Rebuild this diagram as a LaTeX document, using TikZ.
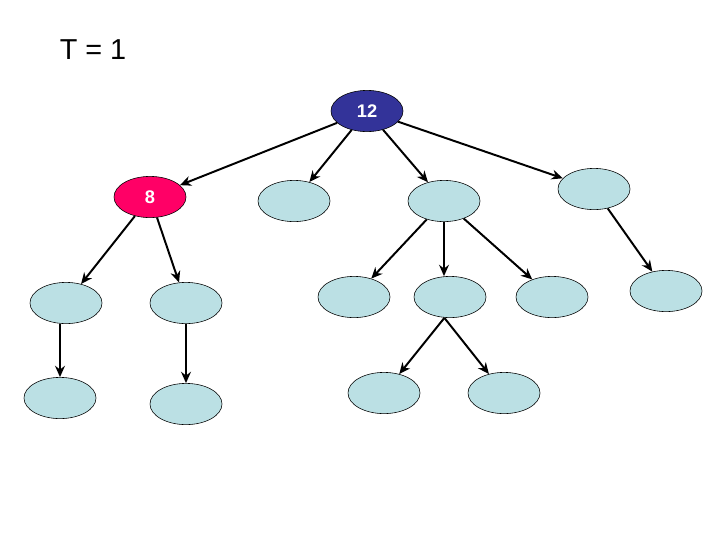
\documentclass[tikz,border=0pt]{standalone}
\usepackage{fontspec}
\setmainfont{Liberation Sans}
\usepackage{tikz}
\usetikzlibrary{arrows.meta,shapes.geometric}
\definecolor{rootblue}{RGB}{51,51,153}
\definecolor{hotpink}{RGB}{255,0,102}
\definecolor{paleblue}{RGB}{187,224,228}

\begin{document}
\begin{tikzpicture}[x=0.025cm,y=-0.025cm,
  vertex/.style={ellipse,draw=black,thin,fill=paleblue,inner sep=0pt,
    minimum width=1.8cm,minimum height=1.03cm,
    font=\fontsize{13}{15}\selectfont\bfseries,text=white},
  edge/.style={line width=1.4pt,-{Stealth[length=8pt,width=7pt]}}]
  \useasboundingbox (0,0) rectangle (720,540);
  \node (title) at (93,50) {\fontsize{20.5}{24}\selectfont T = 1};
  \node[vertex,fill=rootblue] (root) at (367,111) {12};
  \node[vertex,fill=hotpink] (n8) at (150,197) {8};
  \node[vertex] (b) at (294,201) {};
  \node[vertex] (c) at (444,201) {};
  \node[vertex] (d) at (594,189) {};
  \node[vertex] (l1) at (66,303) {};
  \node[vertex] (l2) at (186,303) {};
  \node[vertex] (c1) at (354,297) {};
  \node[vertex] (c2) at (450,297) {};
  \node[vertex] (c3) at (552,297) {};
  \node[vertex] (d1) at (666,291) {};
  \node[vertex] (m1) at (60,398) {};
  \node[vertex] (m2) at (186,404) {};
  \node[vertex] (c2a) at (384,393) {};
  \node[vertex] (c2b) at (504,393) {};
  \draw[edge] (root) -- (n8);
  \draw[edge] (root) -- (b);
  \draw[edge] (root) -- (c);
  \draw[edge] (root) -- (d);
  \draw[edge] (n8) -- (l1);
  \draw[edge] (n8) -- (l2);
  \draw[edge] (c) -- (c1);
  \draw[edge] (c.south) -- (c2.north -| c.south);
  \draw[edge] (c) -- (c3);
  \draw[edge] (d) -- (d1);
  \draw[edge] (l1.south -| m1.north) -- (m1.north);
  \draw[edge] (l2) -- (m2);
  \draw[edge] ([xshift=-4pt]c2.south) -- (c2a);
  \draw[edge] ([xshift=-4pt]c2.south) -- (c2b);
\end{tikzpicture}
\end{document}
